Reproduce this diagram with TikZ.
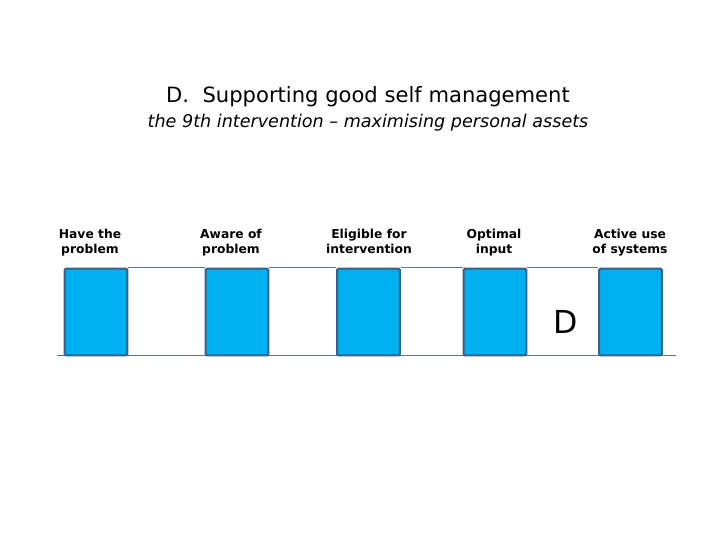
\documentclass[tikz,border=0pt]{standalone}
\usepackage{fontspec}
\setmainfont{DejaVu Sans}
\usepackage{xcolor}
\usetikzlibrary{positioning}

\definecolor{barfill}{HTML}{00B0F0}
\definecolor{bardraw}{HTML}{3A5F88}
\definecolor{axisline}{HTML}{5A7592}

\begin{document}
\begin{tikzpicture}[
  x=0.03cm, y=-0.03cm,
  bar/.style={rectangle, rounded corners=1pt, draw=bardraw, fill=barfill,
              line width=1.8pt, minimum width=1.88cm, minimum height=2.6cm, inner sep=0pt},
  stage/.style={font=\fontsize{10.5}{12.8}\selectfont\bfseries, align=center, text=black, anchor=north},
  link/.style={line width=0.8pt, draw=axisline}
]
\useasboundingbox (0,0) rectangle (720,540);

% ── Heading ──
\node[font=\fontsize{18}{21}\selectfont] (title) at (368,97) {D.\ \ Supporting good self management};
\node[font=\fontsize{15}{18}\selectfont\itshape] (sub) at (368,123) {the 9th intervention -- maximising personal assets};

% ── Stage labels ──
\node[stage] (l1) at (90,225)  {Have the\\problem};
\node[stage] (l2) at (231,225) {Aware of\\problem};
\node[stage] (l3) at (369,225) {Eligible for\\intervention};
\node[stage] (l4) at (494,225) {Optimal\\input};
\node[stage] (l5) at (630,225) {Active use\\of systems};

% ── Base line ──
\coordinate (base0) at (57,355);
\coordinate (base1) at (676,355);
\draw[link] (base0) -- (base1);

% ── Bars ──
\node[bar] (b1) at (96,312)  {};
\node[bar] (b2) at (237,312) {};
\node[bar] (b3) at (368.5,312) {};
\node[bar] (b4) at (495,312) {};
\node[bar] (b5) at (630.5,312) {};

% ── Top links ──
\draw[link] (b1.north east) -- (b2.north west);
\draw[link] (b2.north east) -- (b3.north west);
\draw[link] (b3.north east) -- (b4.north west);
\draw[link] (b4.north east) -- (b5.north west);

\node[font=\fontsize{27}{30}\selectfont] (mark) at (566,322) {D};
\end{tikzpicture}
\end{document}
